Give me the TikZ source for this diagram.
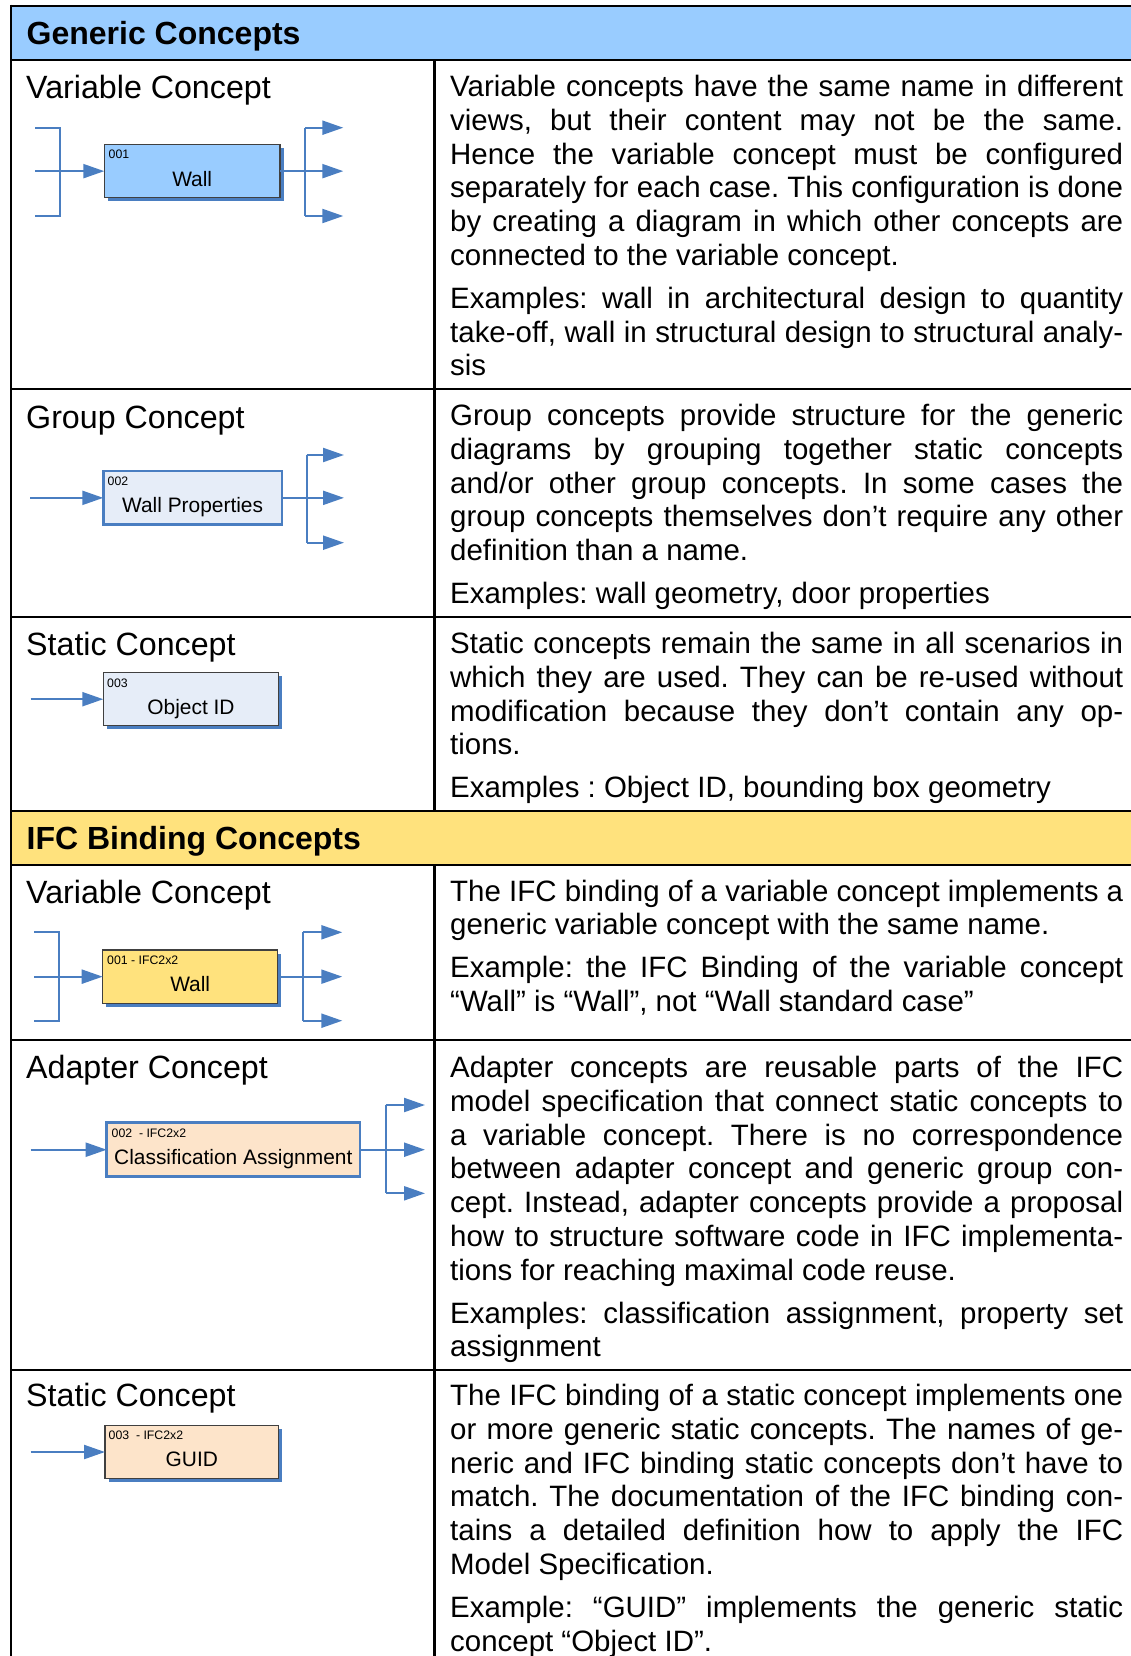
\documentclass[tikz,border=0pt]{standalone}
\usepackage{fontspec}
\setmainfont{Liberation Sans}
\usetikzlibrary{arrows.meta,shadows}
\hbadness=10000
\definecolor{hdrblue}{RGB}{153,204,255}
\definecolor{hdryellow}{RGB}{255,226,125}
\definecolor{linkblue}{RGB}{74,126,193}
\definecolor{paleblue}{RGB}{230,237,248}
\definecolor{peach}{RGB}{253,228,202}
\definecolor{edgegray}{RGB}{64,64,64}
% width of the description column and helpers for its lines
\newlength\colw \setlength\colw{673pt}
\newcommand\jl[1]{\hbox to\colw{#1}}% justified line
\newcommand\el[1]{\hbox{#1}}% last line of a paragraph
\newcommand\pargap{\vskip 9pt}
\tikzset{
  rule/.style={line width=2.5pt, black},
  link/.style={linkblue, line width=2.2pt},
  arr/.style={link, -{Triangle[length=21pt,width=14pt]}},
  conceptbox/.style 2 args={rectangle, inner sep=0pt, outer sep=0pt,
    minimum width=#1, minimum height=#2},
  shadowed/.style={draw=edgegray, line width=1.2pt,
    drop shadow={shadow xshift=3.5pt, shadow yshift=-3.5pt, fill=linkblue, opacity=1}},
  framed/.style={draw=linkblue, line width=2.6pt},
  idtext/.style={anchor=west, inner sep=0pt, font=\fontsize{12.3pt}{14pt}\selectfont},
  nametext/.style={anchor=base, inner sep=0pt, font=\fontsize{20.9pt}{24pt}\selectfont},
  rowtitle/.style={anchor=base west, inner sep=0pt, font=\fontsize{32.2pt}{36pt}\selectfont},
  hdrtitle/.style={anchor=base west, inner sep=0pt, font=\bfseries\fontsize{32pt}{36pt}\selectfont},
  desc/.style={anchor=base west, inner sep=0pt,
    font=\fontsize{29.45pt}{33.8pt}\selectfont\frenchspacing},
}
\begin{document}
\begin{tikzpicture}[x=1pt,y=-1pt]
\useasboundingbox (0,0) rectangle (1131,1656);

% ---------- table frame ----------
\fill[hdrblue] (11,6) rectangle (1140,60);
\fill[hdryellow] (11,811) rectangle (1140,865);
\foreach \yy in {6,60,389,617,811,865,1040,1370}
  \draw[rule] (11,\yy) -- (1140,\yy);
\draw[rule] (11,4.75) -- (11,1660);
\draw[rule] (434.5,60) -- (434.5,811);
\draw[rule] (434.5,865) -- (434.5,1660);

% ---------- section headers ----------
\node[hdrtitle] (hg) at (26.5,44.3) {Generic Concepts};
\node[hdrtitle] (hi) at (26.5,849.3) {IFC Binding Concepts};

% ---------- row titles ----------
\node[rowtitle] (t1) at (26,99) {Variable Concept};
\node[rowtitle] (t2) at (26,428.3) {Group Concept};
\node[rowtitle] (t3) at (26,655) {Static Concept};
\node[rowtitle] (t4) at (26,903.3) {Variable Concept};
\node[rowtitle] (t5) at (26,1078.3) {Adapter Concept};
\node[rowtitle] (t6) at (26,1406.7) {Static Concept};

% ---------- generic variable concept ----------
\node[conceptbox={175.7pt}{52.5pt}, shadowed, fill=hdrblue] (b1) at (192.15,171.15) {};
\node[idtext] (b1id) at (108.5,154.5) {001};
\node[nametext] (b1nm) at (192.2,186.7) {Wall};
\coordinate (i1) at (35,171.15);
\coordinate (i1t) at (35,127.7);
\coordinate (k1t) at (60.3,127.7);
\coordinate (k1b) at (60.3,216);
\coordinate (i1b) at (35,216);
\coordinate (j1t) at (305.3,127.7);
\coordinate (j1b) at (305.3,216);
\coordinate (o1t) at (343.3,127.7);
\coordinate (o1m) at (343.3,171.15);
\coordinate (o1b) at (343.3,216);
\draw[link] (i1t) -- (k1t) -- (k1b) -- (i1b);
\draw[arr] (i1) -- (b1.west);
\draw[link] (j1t) -- (j1b);
\draw[arr] (b1.east) -- (o1m);
\draw[arr] (j1t) -- (o1t);
\draw[arr] (j1b) -- (o1b);

% ---------- group concept ----------
\node[conceptbox={178.7pt}{53.5pt}, framed, fill=paleblue] (b2) at (192.65,497.85) {};
\node[idtext] (b2id) at (107.5,481) {002};
\node[nametext] (b2nm) at (192.6,512.7) {Wall Properties};
\coordinate (i2) at (30,497.85);
\coordinate (j2t) at (306.7,455);
\coordinate (j2b) at (306.7,542.7);
\coordinate (o2t) at (344,455);
\coordinate (o2m) at (344,497.85);
\coordinate (o2b) at (344,542.7);
\draw[arr] (i2) -- (b2.west);
\draw[link] (j2t) -- (j2b);
\draw[arr] (b2.east) -- (o2m);
\draw[arr] (j2t) -- (o2t);
\draw[arr] (j2b) -- (o2b);

% ---------- generic static concept ----------
\node[conceptbox={175.4pt}{53pt}, shadowed, fill=paleblue] (b3) at (191,699.2) {};
\node[idtext] (b3id) at (107,683) {003};
\node[nametext] (b3nm) at (191,714.3) {Object ID};
\coordinate (i3) at (30.7,699.2);
\draw[arr] (i3) -- (b3.west);

% ---------- IFC variable concept ----------
\node[conceptbox={175pt}{53.3pt}, shadowed, fill=hdryellow] (b4) at (190.2,976.65) {};
\node[idtext] (b4id) at (107,960) {001 - IFC2x2};
\node[nametext] (b4nm) at (190.2,991.7) {Wall};
\coordinate (i4) at (34.3,976.65);
\coordinate (i4t) at (34.3,932.3);
\coordinate (k4t) at (59.3,932.3);
\coordinate (k4b) at (59.3,1020.7);
\coordinate (i4b) at (34.3,1020.7);
\coordinate (j4t) at (303.3,932.3);
\coordinate (j4b) at (303.3,1020.7);
\coordinate (o4t) at (342.3,932.3);
\coordinate (o4m) at (342.3,976.65);
\coordinate (o4b) at (342.3,1020.7);
\draw[link] (i4t) -- (k4t) -- (k4b) -- (i4b);
\draw[arr] (i4) -- (b4.west);
\draw[link] (j4t) -- (j4b);
\draw[arr] (b4.east) -- (o4m);
\draw[arr] (j4t) -- (o4t);
\draw[arr] (j4b) -- (o4b);

% ---------- adapter concept ----------
\node[conceptbox={253.3pt}{54pt}, framed, fill=peach] (b5) at (233.35,1149.7) {};
\node[idtext] (b5id) at (111.5,1133.3) {002\ \ - IFC2x2};
\node[nametext] (b5nm) at (233.3,1164) {Classification Assignment};
\coordinate (i5) at (30.7,1149.7);
\coordinate (j5t) at (385.7,1105);
\coordinate (j5b) at (385.7,1193.3);
\coordinate (o5t) at (425,1105);
\coordinate (o5m) at (425,1149.7);
\coordinate (o5b) at (425,1193.3);
\draw[arr] (i5) -- (b5.west);
\draw[link] (j5t) -- (j5b);
\draw[arr] (b5.east) -- (o5m);
\draw[arr] (j5t) -- (o5t);
\draw[arr] (j5b) -- (o5b);

% ---------- IFC static concept ----------
\node[conceptbox={173.7pt}{52.6pt}, shadowed, fill=peach] (b6) at (191.85,1452) {};
\node[idtext] (b6id) at (108.5,1435) {003\ \ - IFC2x2};
\node[nametext] (b6nm) at (191.8,1466) {GUID};
\coordinate (i6) at (30.7,1452);
\draw[arr] (i6) -- (b6.west);

% ---------- descriptions ----------
\node[desc] (d1) at (450,96.5) {\vtop{%
  \jl{Variable concepts have the same name in different}
  \jl{views, but their content may not be the same.}
  \jl{Hence the variable concept must be configured}
  \jl{separately for each case. This configuration is done}
  \jl{by creating a diagram in which other concepts are}
  \el{connected to the variable concept.}
  \pargap
  \jl{Examples: wall in architectural design to quantity}
  \jl{take-off, wall in structural design to structural analy-}
  \el{sis}}};

\node[desc] (d2) at (450,425.5) {\vtop{%
  \jl{Group concepts provide structure for the generic}
  \jl{diagrams by grouping together static concepts}
  \jl{and/or other group concepts. In some cases the}
  \jl{group concepts themselves don’t require any other}
  \el{definition than a name.}
  \pargap
  \el{Examples: wall geometry, door properties}}};

\node[desc] (d3) at (450,653.5) {\vtop{%
  \jl{Static concepts remain the same in all scenarios in}
  \jl{which they are used. They can be re-used without}
  \jl{modification because they don’t contain any op-}
  \el{tions.}
  \pargap
  \el{Examples : Object ID, bounding box geometry}}};

\node[desc] (d4) at (450,901) {\vtop{%
  \jl{The IFC binding of a variable concept implements a}
  \el{generic variable concept with the same name.}
  \pargap
  \jl{Example: the IFC Binding of the variable concept}
  \el{“Wall” is “Wall”, not “Wall standard case”}}};

\node[desc] (d5) at (450,1077.5) {\vtop{%
  \jl{Adapter concepts are reusable parts of the IFC}
  \jl{model specification that connect static concepts to}
  \jl{a variable concept. There is no correspondence}
  \jl{between adapter concept and generic group con-}
  \jl{cept. Instead, adapter concepts provide a proposal}
  \jl{how to structure software code in IFC implementa-}
  \el{tions for reaching maximal code reuse.}
  \pargap
  \jl{Examples: classification assignment, property set}
  \el{assignment}}};

\node[desc] (d6) at (450,1405.5) {\vtop{%
  \jl{The IFC binding of a static concept implements one}
  \jl{or more generic static concepts. The names of ge-}
  \jl{neric and IFC binding static concepts don’t have to}
  \jl{match. The documentation of the IFC binding con-}
  \jl{tains a detailed definition how to apply the IFC}
  \el{Model Specification.}
  \pargap
  \jl{Example: “GUID” implements the generic static}
  \el{concept “Object ID”.}}};
\end{tikzpicture}
\end{document}
